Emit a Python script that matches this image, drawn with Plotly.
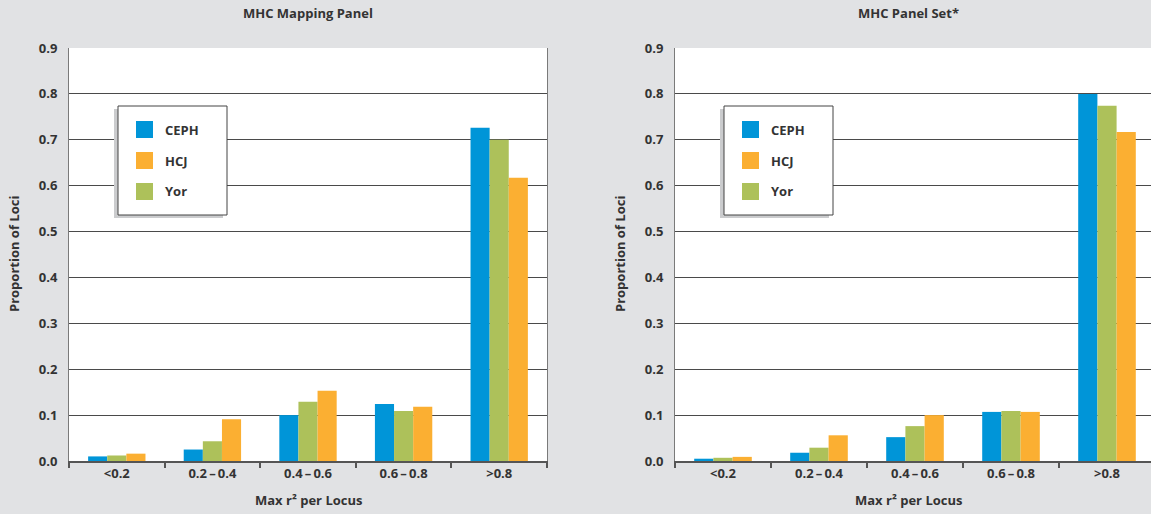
import plotly.graph_objects as go

# Data
categories = ["<0.2", "0.2\u2009\u2013\u20090.4", "0.4\u2009\u2013\u20090.6",
              "0.6\u2009\u2013\u20090.8", ">0.8"]
panel_titles = ["MHC Mapping Panel", "MHC Panel Set*"]

# Mapping panel
mapping_ceph = [0.010, 0.025, 0.100, 0.124, 0.726]
mapping_yor = [0.012, 0.043, 0.129, 0.109, 0.700]
mapping_hcj = [0.016, 0.091, 0.153, 0.118, 0.617]

# Panel set
set_ceph = [0.005, 0.018, 0.052, 0.107, 0.800]
set_yor = [0.007, 0.029, 0.076, 0.109, 0.774]
set_hcj = [0.009, 0.056, 0.100, 0.107, 0.717]

series_names = ["CEPH", "HCJ", "Yor"]
colors = {"CEPH": "#0095D8", "HCJ": "#FBAF32", "Yor": "#ADC15A"}

W, H = 1151, 514
ML, MR, MT, MB = 69, 0, 48, 53
PW, PH = W - ML - MR, H - MT - MB


def px_x(x):
    return (x - ML) / PW


def px_y(y):
    return (H - MB - y) / PH


BG = "#E1E2E4"
TXT = "#333333"
FONT = "'Open Sans', Lato, sans-serif"

fig = go.Figure()

panels = [
    ("x", "y", {"CEPH": mapping_ceph, "Yor": mapping_yor, "HCJ": mapping_hcj}),
    ("x2", "y2", {"CEPH": set_ceph, "Yor": set_yor, "HCJ": set_hcj}),
]
# bars are drawn in the order CEPH, Yor, HCJ
for xa, ya, vals in panels:
    for name in ["CEPH", "Yor", "HCJ"]:
        fig.add_trace(go.Bar(
            x=categories, y=vals[name], name=name,
            marker=dict(color=colors[name], line=dict(width=0)),
            xaxis=xa, yaxis=ya, showlegend=False,
        ))

axis_common_y = dict(
    range=[0, 0.9], dtick=0.1, tickformat=".1f",
    showgrid=True, gridcolor="#4a4a4a", gridwidth=1,
    showline=True, linecolor="#7a7a7a", linewidth=1, mirror=True,
    ticks="", zeroline=False, ticklabelstandoff=8,
    tickfont=dict(family=FONT, size=13, color=TXT, weight="bold"),
)
axis_common_x = dict(
    type="category", showgrid=False,
    showline=True, linecolor="#555555", linewidth=1.5, mirror=False,
    ticks="outside", tickson="boundaries", ticklen=5, tickcolor="#555555",
    tickwidth=1.5,
    tickfont=dict(family=FONT, size=13, color=TXT, weight="bold"),
)

left_dom = [0, px_x(547)]
right_dom = [px_x(675), 1]

fig.update_layout(
    width=W, height=H,
    margin=dict(l=ML, r=MR, t=MT, b=MB),
    paper_bgcolor=BG, plot_bgcolor="white",
    barmode="group", bargap=0.4, bargroupgap=0,
    xaxis=dict(domain=left_dom, anchor="y", range=[-0.5, 4.5], **axis_common_x),
    yaxis=dict(domain=[0, 1], anchor="x", **axis_common_y),
    xaxis2=dict(domain=right_dom, anchor="y2",
                range=[-0.5, -0.5 + (W - 675) / 96.0], **axis_common_x),
    yaxis2=dict(domain=[0, 1], anchor="x2", **axis_common_y),
    showlegend=False,
)

annotations = []
shapes = []

# Panel titles, axis titles
for title, cx, ylab_x in [(panel_titles[0], 308, 14), (panel_titles[1], 908, 620)]:
    annotations.append(dict(
        text=title, x=px_x(cx), y=px_y(13), xref="paper", yref="paper",
        showarrow=False, xanchor="center", yanchor="middle",
        font=dict(family=FONT, size=13, color=TXT, weight="bold"),
    ))
    annotations.append(dict(
        text="Max r\u00b2 per Locus", x=px_x(cx), y=px_y(500),
        xref="paper", yref="paper", showarrow=False,
        xanchor="center", yanchor="middle",
        font=dict(family=FONT, size=13, color=TXT, weight="bold"),
    ))
    annotations.append(dict(
        text="Proportion of Loci", x=px_x(ylab_x), y=px_y(254),
        xref="paper", yref="paper", showarrow=False, textangle=-90,
        xanchor="center", yanchor="middle",
        font=dict(family=FONT, size=13, color=TXT, weight="bold"),
    ))

# Boxed legends with drop shadow
for bx in [118, 724]:
    top, bottom, right = 106, 215, bx + 109
    shapes.append(dict(type="rect", xref="paper", yref="paper", layer="above",
                       x0=px_x(bx - 4), x1=px_x(right - 4),
                       y0=px_y(bottom + 3), y1=px_y(top + 3),
                       fillcolor="#CBCCCE", line=dict(width=0)))
    shapes.append(dict(type="rect", xref="paper", yref="paper", layer="above",
                       x0=px_x(bx), x1=px_x(right),
                       y0=px_y(bottom), y1=px_y(top),
                       fillcolor="white", line=dict(color="#444444", width=1)))
    for i, name in enumerate(series_names):
        cy = 129.5 + 31 * i
        shapes.append(dict(type="rect", xref="paper", yref="paper", layer="above",
                           x0=px_x(bx + 18), x1=px_x(bx + 35),
                           y0=px_y(cy + 8.5), y1=px_y(cy - 8.5),
                           fillcolor=colors[name], line=dict(width=0)))
        annotations.append(dict(
            text=name, x=px_x(bx + 45), y=px_y(cy), xref="paper", yref="paper",
            showarrow=False, xanchor="left", yanchor="middle",
            font=dict(family=FONT, size=13, color=TXT, weight="bold"),
        ))

fig.update_layout(annotations=annotations, shapes=shapes)

fig.write_html("out.html")
